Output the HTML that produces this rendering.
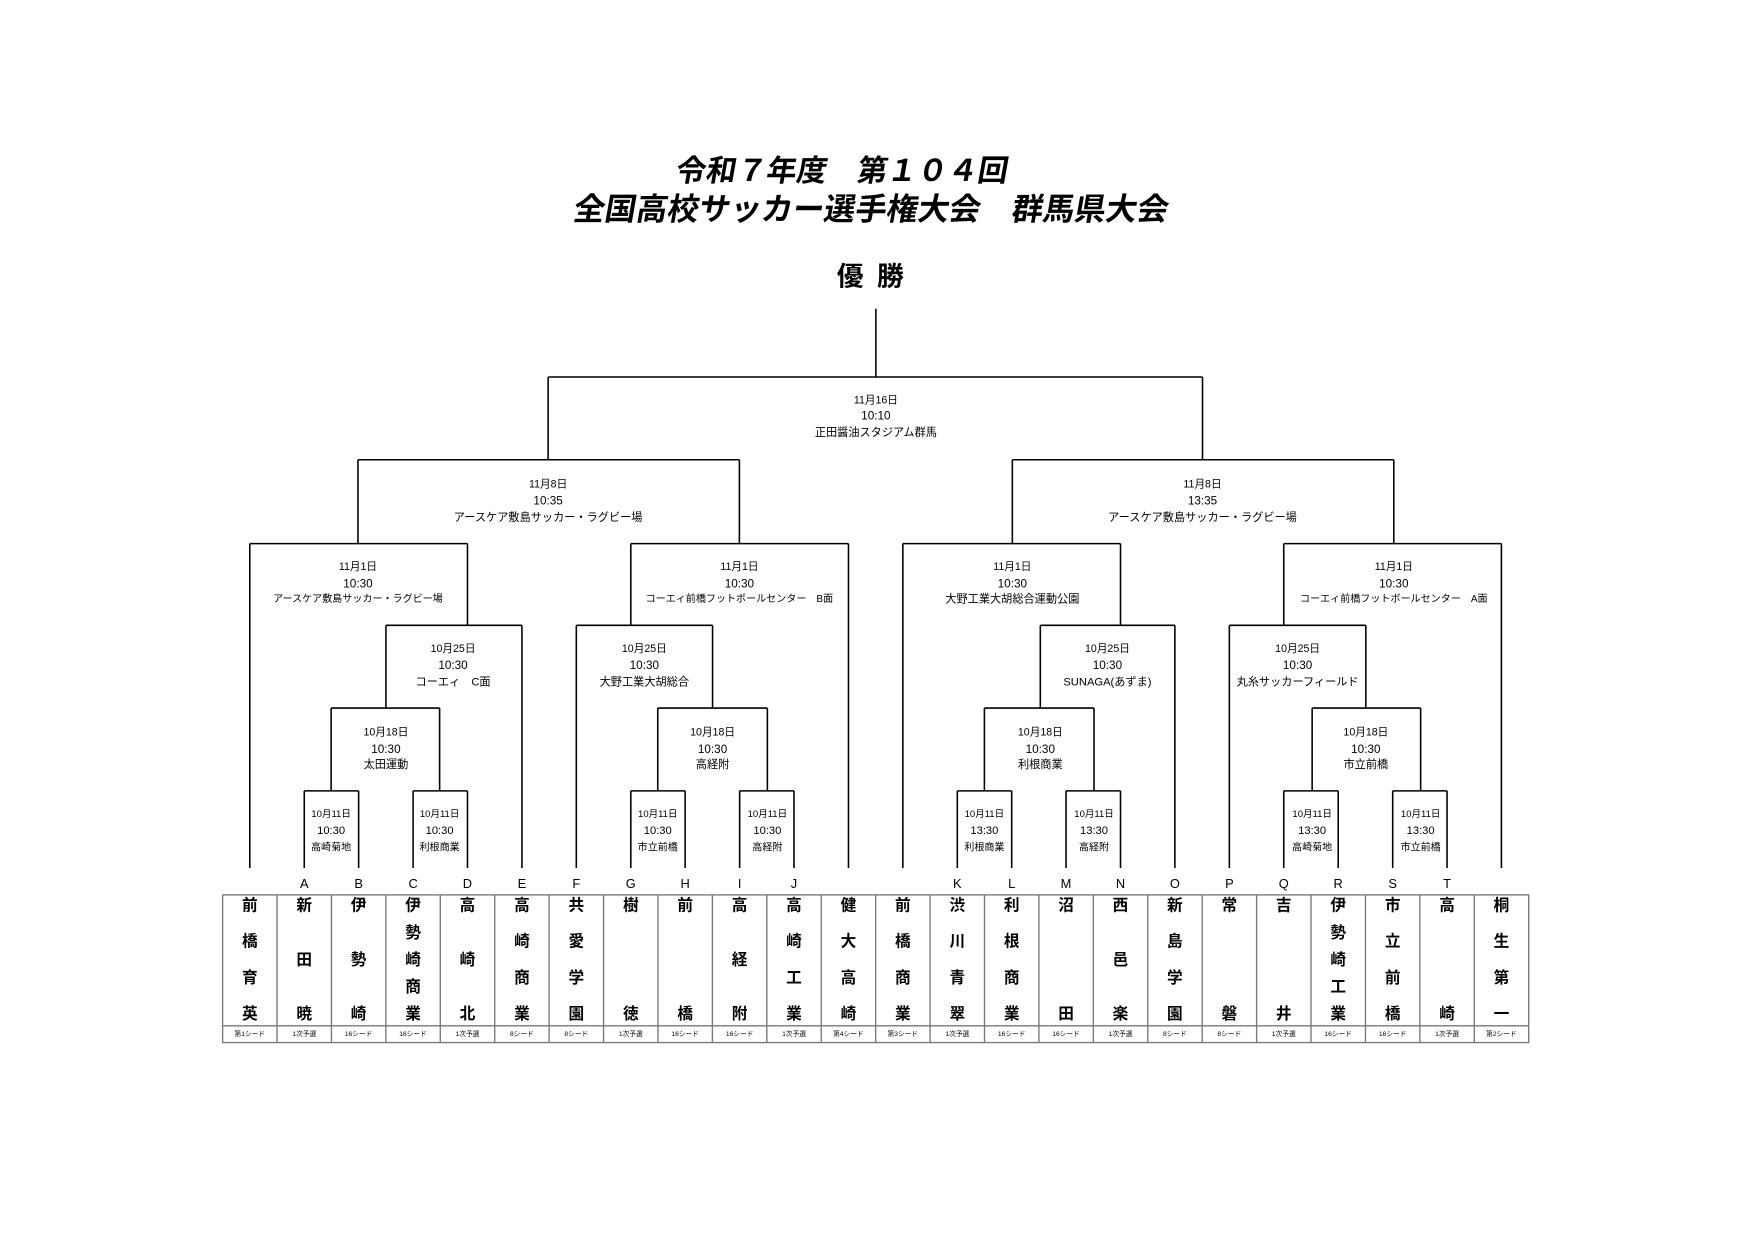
<!DOCTYPE html>
<html><head><meta charset="utf-8"><style>
html,body{margin:0;padding:0;background:#fff;width:1754px;height:1240px;overflow:hidden}
svg{display:block}
text{font-family:"Liberation Sans","Noto Sans CJK JP",sans-serif;fill:#000;dominant-baseline:central;text-anchor:middle}
.d{font-size:9.5px}.t{font-size:10.5px}.v{font-size:10px}
.d1{font-size:8.5px}.t1{font-size:10px}.v1{font-size:9px}
.n{font-size:14px;font-weight:bold}
.s{font-size:6px}
.L{font-size:11.5px}
</style></head><body>
<svg width="1754" height="1240" viewBox="0 0 1568 1108.5" preserveAspectRatio="none">
<g font-weight="bold">
<text x="753" y="153" style="font-size:27px;font-weight:bold" transform="skewX(-10) translate(27,0)">令和７年度　第１０４回</text>
<text x="779" y="187" style="font-size:28px;font-weight:bold" transform="skewX(-10) translate(33,0)">全国高校サッカー選手権大会　群馬県大会</text>
<text x="784" y="247" style="font-size:24px;font-weight:bold;letter-spacing:12px">優勝</text>
</g>
<g stroke="#000" stroke-width="1.4" fill="none">
<path d="M783 276V337M490 337H1075M490 337V411M1075 337V411M320 411H661M320 411V486M661 411V486M905 411H1246M905 411V486M1246 411V486"/>
<path d="M223.3 486H417.9M223.3 486V776M417.9 486V559M345 559H466.6M466.6 559V776M345 559V633M296 633H393M296 633V707M393 633V707M272 707H320.6M272 707V776M320.6 707V776M369.3 707H417.9M369.3 707V776M417.9 707V776"/>
<path d="M563.9 486H758.5M758.5 486V776M563.9 486V559M515.2 559H637M515.2 559V776M637 559V633M588 633H686M588 633V707M686 633V707M563.9 707H612.5M563.9 707V776M612.5 707V776M661.2 707H709.8M661.2 707V776M709.8 707V776"/>
<path d="M807.1 486H1001.7M807.1 486V776M1001.7 486V559M930 559H1050.3M1050.3 559V776M930 559V633M880 633H978M880 633V707M978 633V707M855.8 707H904.4M855.8 707V776M904.4 707V776M953 707H1001.7M953 707V776M1001.7 707V776"/>
<path d="M1147.6 486H1342.2M1342.2 486V776M1147.6 486V559M1099 559H1221M1099 559V776M1221 559V633M1173 633H1270M1173 633V707M1270 633V707M1147.6 707H1196.3M1147.6 707V776M1196.3 707V776M1245 707H1293.6M1245 707V776M1293.6 707V776"/>
</g>
<text class="d" x="783" y="358">11月16日</text><text class="t" x="783" y="372">10:10</text><text class="v" x="783" y="387">正田醤油スタジアム群馬</text>
<text class="d" x="490" y="433">11月8日</text><text class="t" x="490" y="448">10:35</text><text class="v" x="490" y="463">アースケア敷島サッカー・ラグビー場</text>
<text class="d" x="1075" y="433">11月8日</text><text class="t" x="1075" y="448">13:35</text><text class="v" x="1075" y="463">アースケア敷島サッカー・ラグビー場</text>
<text class="d" x="320" y="507">11月1日</text><text class="t" x="320" y="522">10:30</text><text class="v1" x="320" y="536">アースケア敷島サッカー・ラグビー場</text>
<text class="d" x="661" y="507">11月1日</text><text class="t" x="661" y="522">10:30</text><text class="v1" x="661" y="536">コーエィ前橋フットボールセンター　B面</text>
<text class="d" x="905" y="507">11月1日</text><text class="t" x="905" y="522">10:30</text><text class="v" x="905" y="536">大野工業大胡総合運動公園</text>
<text class="d" x="1246" y="507">11月1日</text><text class="t" x="1246" y="522">10:30</text><text class="v1" x="1246" y="536">コーエィ前橋フットボールセンター　A面</text>
<text class="d" x="405" y="580">10月25日</text><text class="t" x="405" y="595">10:30</text><text class="v" x="405" y="610">コーエィ　C面</text>
<text class="d" x="576" y="580">10月25日</text><text class="t" x="576" y="595">10:30</text><text class="v" x="576" y="610">大野工業大胡総合</text>
<text class="d" x="990" y="580">10月25日</text><text class="t" x="990" y="595">10:30</text><text class="v" x="990" y="610">SUNAGA(あずま)</text>
<text class="d" x="1160" y="580">10月25日</text><text class="t" x="1160" y="595">10:30</text><text class="v" x="1160" y="610">丸糸サッカーフィールド</text>
<text class="d" x="345" y="655">10月18日</text><text class="t" x="345" y="670">10:30</text><text class="v" x="345" y="684">太田運動</text>
<text class="d" x="637" y="655">10月18日</text><text class="t" x="637" y="670">10:30</text><text class="v" x="637" y="684">高経附</text>
<text class="d" x="930" y="655">10月18日</text><text class="t" x="930" y="670">10:30</text><text class="v" x="930" y="684">利根商業</text>
<text class="d" x="1221" y="655">10月18日</text><text class="t" x="1221" y="670">10:30</text><text class="v" x="1221" y="684">市立前橋</text>
<text class="d1" x="296" y="728">10月11日</text><text class="t1" x="296" y="743">10:30</text><text class="v1" x="296" y="758">高崎菊地</text>
<text class="d1" x="393" y="728">10月11日</text><text class="t1" x="393" y="743">10:30</text><text class="v1" x="393" y="758">利根商業</text>
<text class="d1" x="588" y="728">10月11日</text><text class="t1" x="588" y="743">10:30</text><text class="v1" x="588" y="758">市立前橋</text>
<text class="d1" x="686" y="728">10月11日</text><text class="t1" x="686" y="743">10:30</text><text class="v1" x="686" y="758">高経附</text>
<text class="d1" x="880" y="728">10月11日</text><text class="t1" x="880" y="743">13:30</text><text class="v1" x="880" y="758">利根商業</text>
<text class="d1" x="978" y="728">10月11日</text><text class="t1" x="978" y="743">13:30</text><text class="v1" x="978" y="758">高経附</text>
<text class="d1" x="1173" y="728">10月11日</text><text class="t1" x="1173" y="743">13:30</text><text class="v1" x="1173" y="758">高崎菊地</text>
<text class="d1" x="1270" y="728">10月11日</text><text class="t1" x="1270" y="743">13:30</text><text class="v1" x="1270" y="758">市立前橋</text>
<g class="L">
<text class="L" x="272" y="790">A</text><text class="L" x="320.6" y="790">B</text><text class="L" x="369.3" y="790">C</text><text class="L" x="417.9" y="790">D</text><text class="L" x="466.6" y="790">E</text><text class="L" x="515.2" y="790">F</text><text class="L" x="563.9" y="790">G</text><text class="L" x="612.5" y="790">H</text><text class="L" x="661.2" y="790">I</text><text class="L" x="709.8" y="790">J</text>
<text class="L" x="855.8" y="790">K</text><text class="L" x="904.4" y="790">L</text><text class="L" x="953" y="790">M</text><text class="L" x="1001.7" y="790">N</text><text class="L" x="1050.3" y="790">O</text><text class="L" x="1099" y="790">P</text><text class="L" x="1147.6" y="790">Q</text><text class="L" x="1196.3" y="790">R</text><text class="L" x="1245" y="790">S</text><text class="L" x="1293.6" y="790">T</text>
</g>
<g stroke="#777" stroke-width="1.2" fill="none">
<rect x="199" y="800" width="1167.6" height="132"/>
<path d="M199 917H1366.6"/>
<path d="M247.65 800V932M296.3 800V932M344.95 800V932M393.6 800V932M442.25 800V932M490.9 800V932M539.55 800V932M588.2 800V932M636.85 800V932M685.5 800V932M734.15 800V932M782.8 800V932M831.45 800V932M880.1 800V932M928.75 800V932M977.4 800V932M1026.05 800V932M1074.7 800V932M1123.35 800V932M1172 800V932M1220.65 800V932M1269.3 800V932M1317.95 800V932"/>
</g>
<g class="n">
<text class="n" x="223.3" y="810">前</text><text class="n" x="223.3" y="842.3">橋</text><text class="n" x="223.3" y="874.7">育</text><text class="n" x="223.3" y="907">英</text>
<text class="n" x="272" y="810">新</text><text class="n" x="272" y="858.5">田</text><text class="n" x="272" y="907">暁</text>
<text class="n" x="320.6" y="810">伊</text><text class="n" x="320.6" y="858.5">勢</text><text class="n" x="320.6" y="907">崎</text>
<text class="n" x="369.3" y="810">伊</text><text class="n" x="369.3" y="834.3">勢</text><text class="n" x="369.3" y="858.5">崎</text><text class="n" x="369.3" y="882.8">商</text><text class="n" x="369.3" y="907">業</text>
<text class="n" x="417.9" y="810">高</text><text class="n" x="417.9" y="858.5">崎</text><text class="n" x="417.9" y="907">北</text>
<text class="n" x="466.6" y="810">高</text><text class="n" x="466.6" y="842.3">崎</text><text class="n" x="466.6" y="874.7">商</text><text class="n" x="466.6" y="907">業</text>
<text class="n" x="515.2" y="810">共</text><text class="n" x="515.2" y="842.3">愛</text><text class="n" x="515.2" y="874.7">学</text><text class="n" x="515.2" y="907">園</text>
<text class="n" x="563.9" y="810">樹</text><text class="n" x="563.9" y="907">徳</text>
<text class="n" x="612.5" y="810">前</text><text class="n" x="612.5" y="907">橋</text>
<text class="n" x="661.2" y="810">高</text><text class="n" x="661.2" y="858.5">経</text><text class="n" x="661.2" y="907">附</text>
<text class="n" x="709.8" y="810">高</text><text class="n" x="709.8" y="842.3">崎</text><text class="n" x="709.8" y="874.7">工</text><text class="n" x="709.8" y="907">業</text>
<text class="n" x="758.5" y="810">健</text><text class="n" x="758.5" y="842.3">大</text><text class="n" x="758.5" y="874.7">高</text><text class="n" x="758.5" y="907">崎</text>
<text class="n" x="807.1" y="810">前</text><text class="n" x="807.1" y="842.3">橋</text><text class="n" x="807.1" y="874.7">商</text><text class="n" x="807.1" y="907">業</text>
<text class="n" x="855.8" y="810">渋</text><text class="n" x="855.8" y="842.3">川</text><text class="n" x="855.8" y="874.7">青</text><text class="n" x="855.8" y="907">翠</text>
<text class="n" x="904.4" y="810">利</text><text class="n" x="904.4" y="842.3">根</text><text class="n" x="904.4" y="874.7">商</text><text class="n" x="904.4" y="907">業</text>
<text class="n" x="953" y="810">沼</text><text class="n" x="953" y="907">田</text>
<text class="n" x="1001.7" y="810">西</text><text class="n" x="1001.7" y="858.5">邑</text><text class="n" x="1001.7" y="907">楽</text>
<text class="n" x="1050.3" y="810">新</text><text class="n" x="1050.3" y="842.3">島</text><text class="n" x="1050.3" y="874.7">学</text><text class="n" x="1050.3" y="907">園</text>
<text class="n" x="1099" y="810">常</text><text class="n" x="1099" y="907">磐</text>
<text class="n" x="1147.6" y="810">吉</text><text class="n" x="1147.6" y="907">井</text>
<text class="n" x="1196.3" y="810">伊</text><text class="n" x="1196.3" y="834.3">勢</text><text class="n" x="1196.3" y="858.5">崎</text><text class="n" x="1196.3" y="882.8">工</text><text class="n" x="1196.3" y="907">業</text>
<text class="n" x="1245" y="810">市</text><text class="n" x="1245" y="842.3">立</text><text class="n" x="1245" y="874.7">前</text><text class="n" x="1245" y="907">橋</text>
<text class="n" x="1293.6" y="810">高</text><text class="n" x="1293.6" y="907">崎</text>
<text class="n" x="1342.2" y="810">桐</text><text class="n" x="1342.2" y="842.3">生</text><text class="n" x="1342.2" y="874.7">第</text><text class="n" x="1342.2" y="907">一</text>
</g>
<g>
<text class="s" x="223.3" y="925">第1シード</text><text class="s" x="272" y="925">1次予選</text><text class="s" x="320.6" y="925">16シード</text><text class="s" x="369.3" y="925">16シード</text><text class="s" x="417.9" y="925">1次予選</text><text class="s" x="466.6" y="925">8シード</text><text class="s" x="515.2" y="925">8シード</text><text class="s" x="563.9" y="925">1次予選</text><text class="s" x="612.5" y="925">16シード</text><text class="s" x="661.2" y="925">16シード</text><text class="s" x="709.8" y="925">1次予選</text><text class="s" x="758.5" y="925">第4シード</text>
<text class="s" x="807.1" y="925">第3シード</text><text class="s" x="855.8" y="925">1次予選</text><text class="s" x="904.4" y="925">16シード</text><text class="s" x="953" y="925">16シード</text><text class="s" x="1001.7" y="925">1次予選</text><text class="s" x="1050.3" y="925">8シード</text><text class="s" x="1099" y="925">8シード</text><text class="s" x="1147.6" y="925">1次予選</text><text class="s" x="1196.3" y="925">16シード</text><text class="s" x="1245" y="925">16シード</text><text class="s" x="1293.6" y="925">1次予選</text><text class="s" x="1342.2" y="925">第2シード</text>
</g>
</svg>
</body></html>
